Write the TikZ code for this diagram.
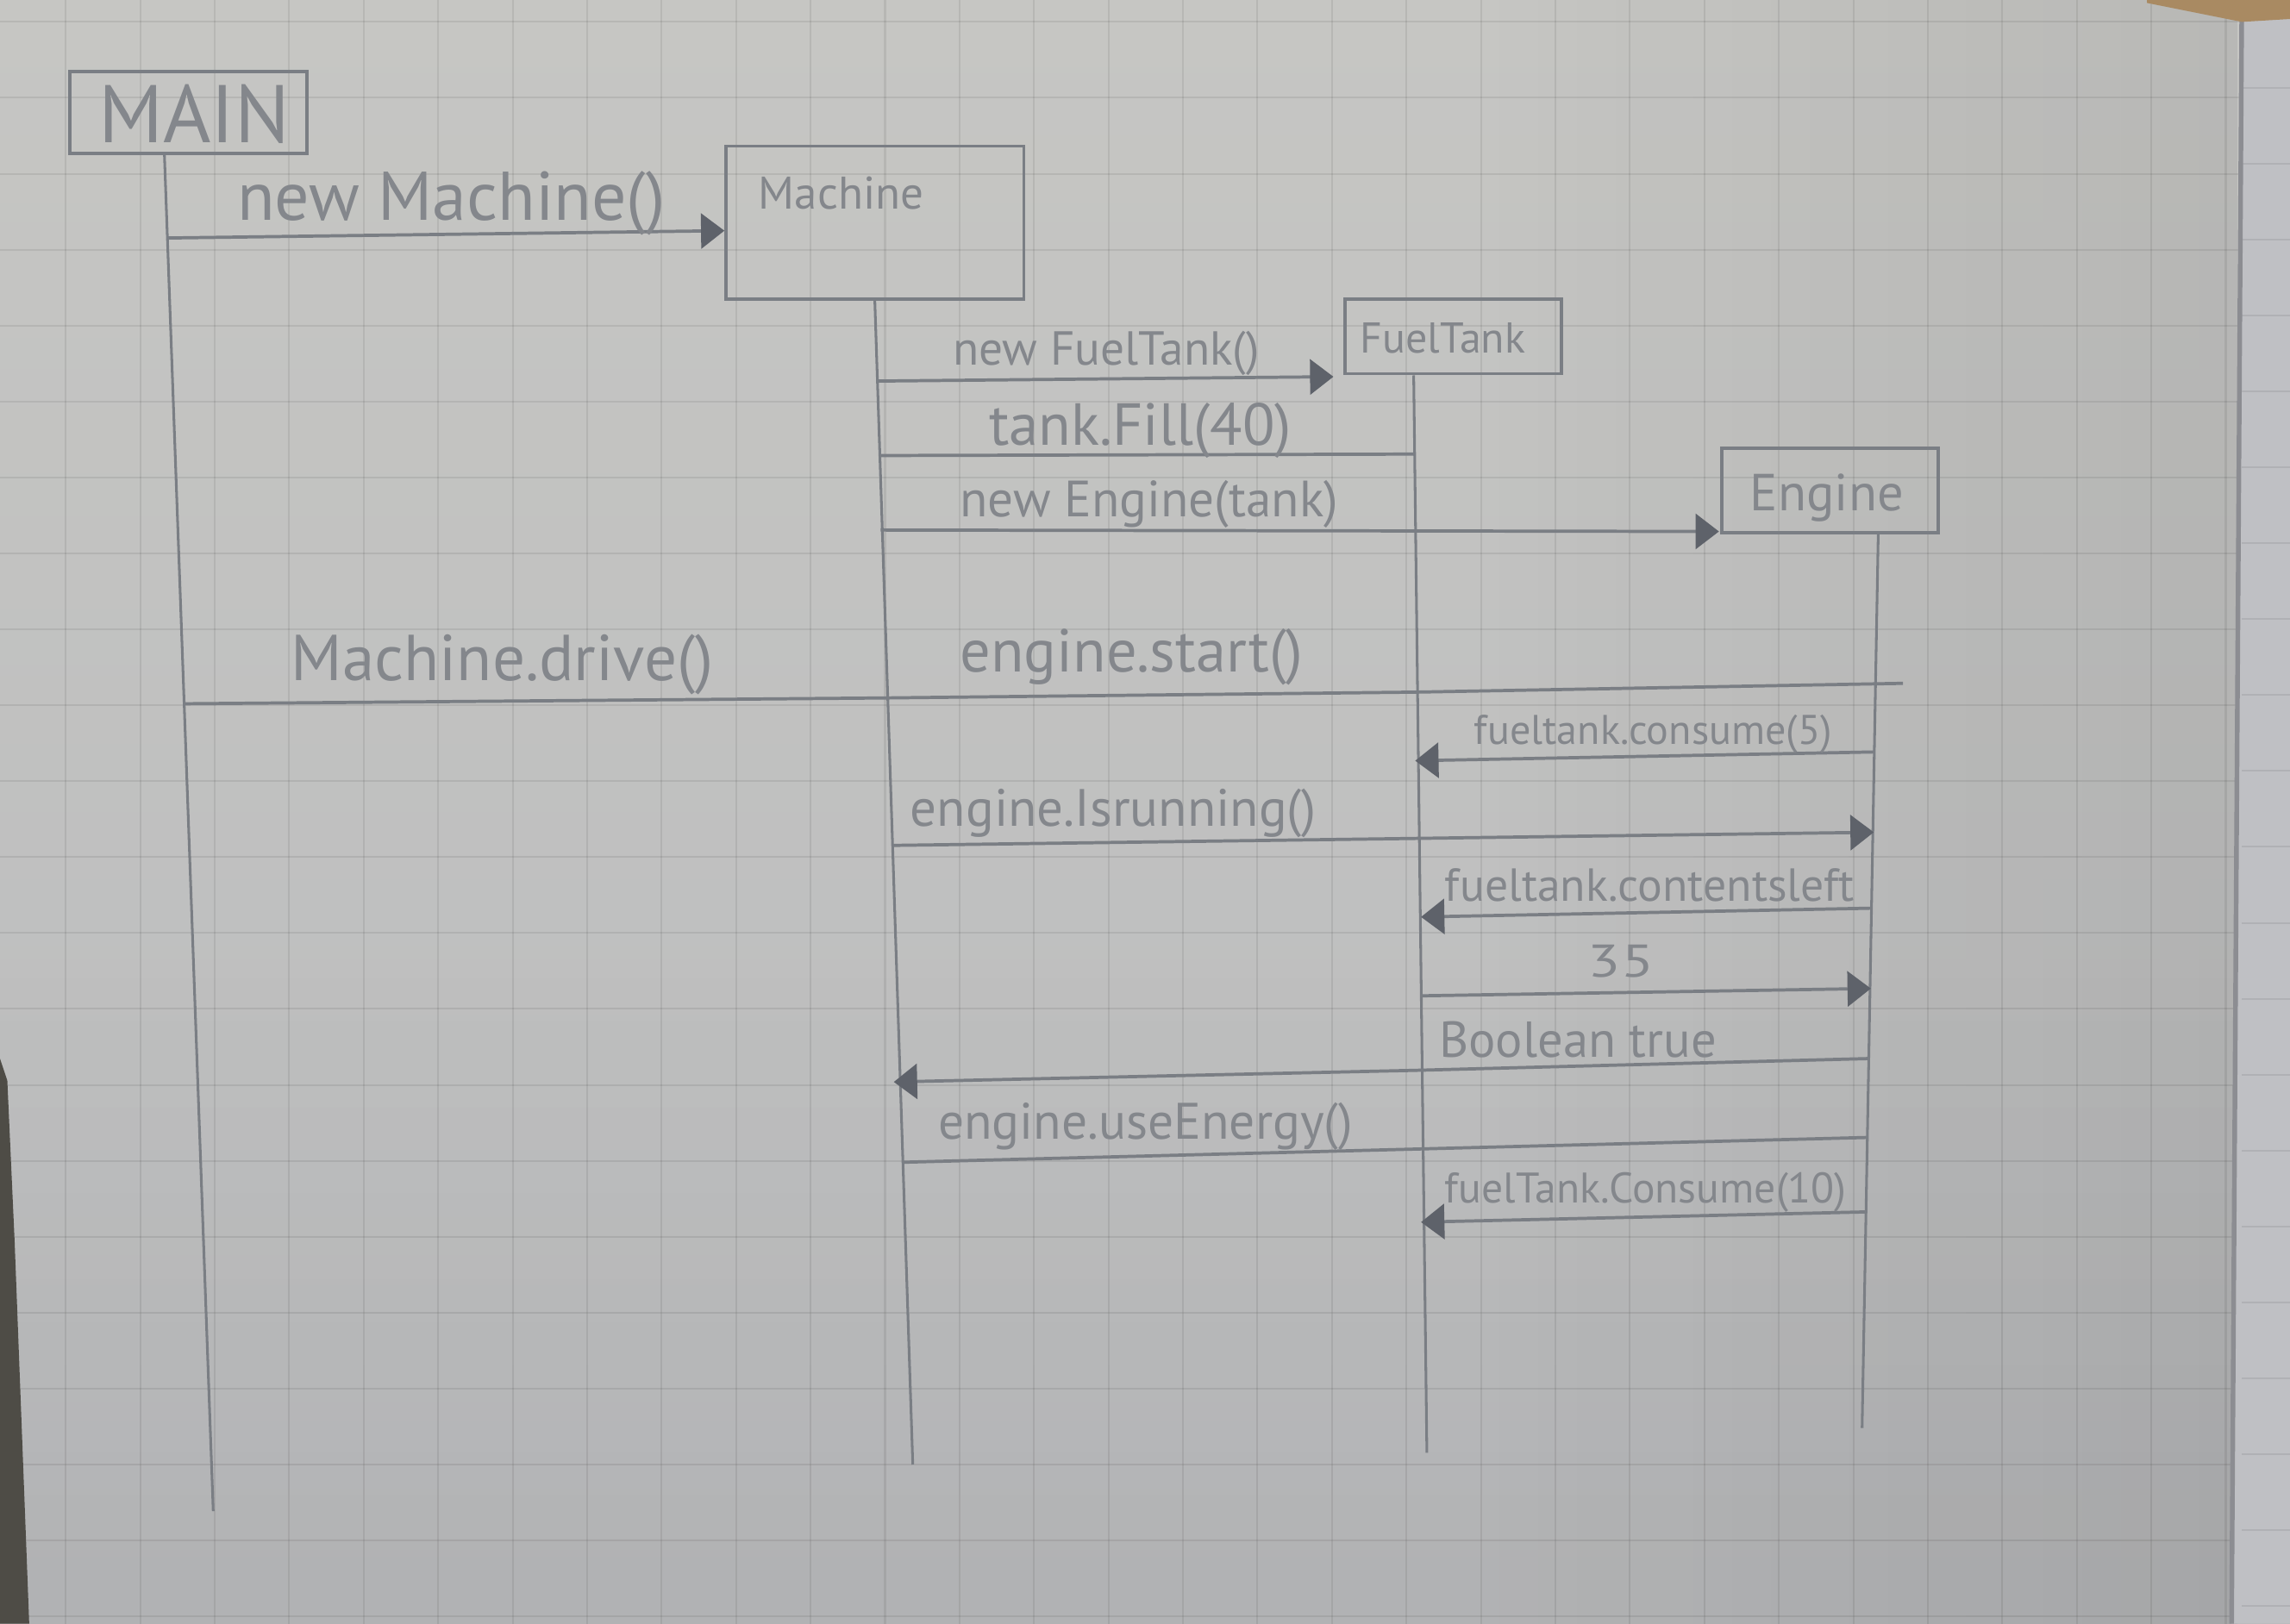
\documentclass[tikz,border=0pt]{standalone}
\usepackage{fontspec}
\usepackage{graphicx}
\setmainfont{PT Sans}
\usetikzlibrary{arrows.meta,calc}
\definecolor{paperT}{HTML}{C6C6C3}
\definecolor{paperB}{HTML}{BABBBD}
\definecolor{pageR}{HTML}{BFC0C4}
\definecolor{pencil}{HTML}{7A7E84}
\definecolor{pencilT}{HTML}{84878C}
\definecolor{tipc}{HTML}{5E626A}
\definecolor{edgec}{HTML}{8C8D92}
\definecolor{wood}{HTML}{A98A62}
\definecolor{darkc}{HTML}{4E4C46}
\newcommand{\hw}[2]{\resizebox{#1pt}{!}{#2}}
\begin{document}
\begin{tikzpicture}[x=0.5pt,y=-0.5pt,
  objbox/.style={draw=pencil, line width=1.1pt, inner sep=0pt},
  life/.style={draw=pencil, line width=0.9pt},
  msg/.style={draw=pencil, line width=1.1pt},
  call/.style={msg, -{Triangle[length=8pt,width=12pt,color=tipc]}},
  lbl/.style={anchor=base west, inner sep=0pt, text=pencilT},
  gridl/.style={draw=black, opacity=0.075, line width=0.6pt}]
% ---------- paper ----------
\useasboundingbox (0,0) rectangle (1568,1112);
\shade[top color=paperT, bottom color=paperB] (0,0) rectangle (1568,1112);
\foreach \k in {0,...,30}{\draw[gridl] ({45+51*\k},0) -- ({45+51*\k},1112);}
\foreach \k in {0,...,21}{\draw[gridl] (0,{15+52*\k}) -- (1568,{15+52*\k});}
\foreach \i in {0,...,19}{\pgfmathsetmacro\op{0.0035*\i}
  \fill[black,opacity=\op] ({1000+\i*26.6},0) rectangle ({1000+(\i+1)*26.6},1112);}
\foreach \i in {0,...,15}{\pgfmathsetmacro\op{0.003*\i}
  \fill[black,opacity=\op] (0,{640+\i*29.5}) rectangle (1568,{640+(\i+1)*29.5});}
\fill[pageR] (1535,0) -- (1568,0) -- (1568,1112) -- (1528,1112) -- cycle;
\foreach \k in {0,...,21}{\draw[gridl] (1535,{8+52*\k}) -- (1568,{8+52*\k});}
\draw[edgec, line width=1.6pt] (1535,0) -- (1528,1112);
\fill[wood] (1470,0) -- (1568,0) -- (1568,13) -- (1535,15) -- (1470,2) -- cycle;
\fill[darkc] (0,725) -- (5,740) -- (10,850) -- (20,1112) -- (0,1112) -- cycle;
% ---------- objects ----------
\node[objbox, minimum width=81pt, minimum height=28pt] (main) at (129,77) {};
\node[objbox, minimum width=102pt, minimum height=52.5pt] (machine) at (599,152.5) {};
\node[objbox, minimum width=74pt, minimum height=25.5pt] (fueltank) at (995,230.5) {};
\node[objbox, minimum width=74pt, minimum height=29pt] (engine) at (1253,336) {};
\node[lbl] (mainT) at (67,98) {\hw{65.5}{MAIN}};
\node[lbl] (machineT) at (519,143) {\hw{56.5}{Machine}};
\node[lbl] (fueltankT) at (931,242) {\hw{56.5}{FuelTank}};
\node[lbl] (engineT) at (1198,350) {\hw{52.5}{Engine}};
% ---------- lifelines ----------
\coordinate (mainTop) at ($(main.south west)!0.4!(main.south east)$);
\coordinate (ftTop) at ($(fueltank.south west)!0.32!(fueltank.south east)$);
\coordinate (engTop) at ($(engine.south west)!0.72!(engine.south east)$);
\coordinate (mainBot) at (146,1035);
\coordinate (machBot) at (625,1003);
\coordinate (ftBot) at (977,995);
\coordinate (engBot) at (1275,978);
\draw[life] (mainTop) -- (mainBot);
\draw[life] (machine.south) -- (machBot);
\draw[life] (ftTop) -- (ftBot);
\draw[life] (engTop) -- (engBot);
% ---------- message end points ----------
\coordinate (a1) at (115,163);  \coordinate (b1) at (496,158);
\coordinate (a2) at (600,261);  \coordinate (b2) at (913,258);
\coordinate (a3) at (602,312);  \coordinate (b3) at (969,311);
\coordinate (a4) at (603,363);  \coordinate (b4) at (1177,364);
\coordinate (a5) at (126,482);  \coordinate (b5) at (607,478);
\coordinate (c6) at (971,474);  \coordinate (b6) at (1303,468);
\coordinate (a7) at (1283,515); \coordinate (b7) at (969,521);
\coordinate (a8) at (611,579);  \coordinate (b8) at (1283,570);
\coordinate (a9) at (1281,622); \coordinate (b9) at (973,628);
\coordinate (a10) at (974,682); \coordinate (b10) at (1281,677);
\coordinate (a11) at (1279,725);\coordinate (c11) at (971,733); \coordinate (b11) at (612,741);
\coordinate (a12) at (618,796); \coordinate (b12) at (1279,779);
\coordinate (a13) at (1278,830);\coordinate (b13) at (973,837);
% ---------- messages ----------
\draw[call] (a1) -- (b1);
\draw[call] (a2) -- (b2);
\draw[msg]  (a3) -- (b3);
\draw[call] (a4) -- (b4);
\draw[msg]  (a5) -- (b5);
\draw[msg]  (b5) -- (c6) -- (b6);
\draw[call] (a7) -- (b7);
\draw[call] (a8) -- (b8);
\draw[call] (a9) -- (b9);
\draw[call] (a10) -- (b10);
\draw[call] (a11) -- (c11) -- (b11);
\draw[msg]  (a12) -- (b12);
\draw[call] (a13) -- (b13);
% ---------- labels ----------
\node[lbl] (l1) at (162,151) {\hw{146.5}{new Machine()}};
\node[lbl] (l2) at (652,250) {\hw{105}{new FuelTank()}};
\node[lbl] (l3) at (677,305) {\hw{103.5}{tank.Fill(40)}};
\node[lbl] (l4) at (657,354) {\hw{129.5}{new Engine(tank)}};
\node[lbl] (l5) at (199,466) {\hw{144.5}{Machine.drive()}};
\node[lbl] (l6) at (657,460) {\hw{117.5}{engine.start()}};
\node[lbl] (l7) at (1009,510) {\hw{122.5}{fueltank.consume(5)}};
\node[lbl] (l8) at (623,566) {\hw{139}{engine.Isrunning()}};
\node[lbl] (l9) at (989,617) {\hw{140}{fueltank.contentsleft}};
\node[lbl] (l10) at (1087,669) {\resizebox{22.5pt}{11pt}{35}};
\node[lbl] (l11) at (985,724) {\hw{95}{Boolean true}};
\node[lbl] (l12) at (642,780) {\hw{142}{engine.useEnergy()}};
\node[lbl] (l13) at (989,824) {\hw{137.5}{fuelTank.Consume(10)}};
\end{tikzpicture}
\end{document}
